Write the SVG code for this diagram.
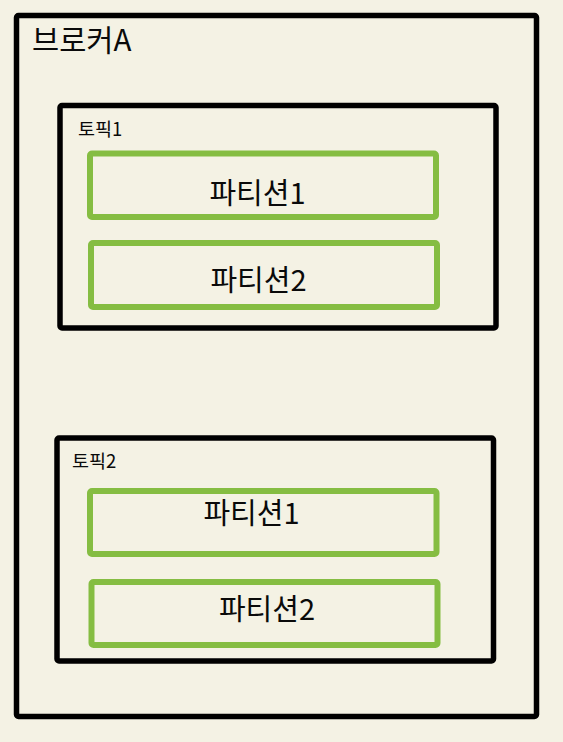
<svg xmlns="http://www.w3.org/2000/svg" width="563" height="742" viewBox="0 0 563 742">
<style>
.bg{fill:#f4f2e4}
.box{fill:none;stroke:#000;stroke-width:5.5;stroke-linejoin:round}
.part{fill:none;stroke:#85bd42;stroke-width:6;stroke-linejoin:round}
text{font-family:"Noto Sans CJK KR","Noto Sans",sans-serif;fill:#0a0a0a;font-weight:400}
.big{font-size:29.5px}
.mid{font-size:29px;text-anchor:middle}
.small{font-size:18.5px}
</style>
<rect class="bg" x="0" y="0" width="563" height="742"/>
<g id="brokerA">
<rect class="box" x="16.5" y="15.5" width="520" height="701" rx="2"/>
<text class="big" x="32" y="51">브로커A</text>
</g>
<g id="topic1">
<rect class="box" x="60" y="105.5" width="436" height="222.5" rx="2"/>
<text class="small" x="78" y="136">토픽1</text>
</g>
<g id="topic1-partition1">
<rect class="part" x="90" y="153.5" width="346" height="63.5" rx="2"/>
<text class="mid" x="257.5" y="204">파티션1</text>
</g>
<g id="topic1-partition2">
<rect class="part" x="91" y="243" width="346" height="64" rx="2"/>
<text class="mid" x="258.5" y="291">파티션2</text>
</g>
<g id="topic2">
<rect class="box" x="57" y="438" width="436.5" height="223" rx="2"/>
<text class="small" x="72" y="468">토픽2</text>
</g>
<g id="topic2-partition1">
<rect class="part" x="90" y="491" width="346.5" height="63" rx="2"/>
<text class="mid" x="251.5" y="524">파티션1</text>
</g>
<g id="topic2-partition2">
<rect class="part" x="91.5" y="582" width="346" height="63" rx="2"/>
<text class="mid" x="267" y="620">파티션2</text>
</g>
<g id="connectors"></g>
</svg>
